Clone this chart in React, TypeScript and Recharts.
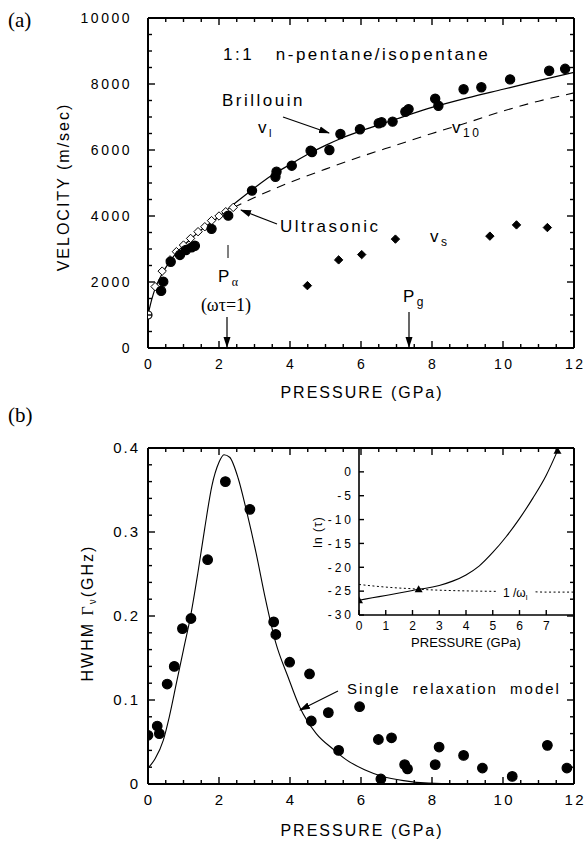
import React from "react";
import { ComposedChart, Line, Scatter, XAxis, YAxis } from "recharts";

const SANS = "'Liberation Sans', Arial, Helvetica, sans-serif";
const SERIF = "'Liberation Serif', 'Times New Roman', serif";

// ---------- panel (a): sound velocity vs pressure ----------
const brillouinPts: [number, number][] = [
  [0.37, 1730], [0.43, 2010], [0.64, 2615], [0.9, 2820], [1.07, 2970],
  [1.23, 3050], [1.32, 3100], [1.79, 3610], [2.26, 4010], [2.93, 4770],
  [3.59, 5190], [3.62, 5340], [4.05, 5525], [4.58, 5980], [4.62, 5940],
  [5.11, 6000], [5.42, 6485], [5.97, 6630], [6.5, 6810], [6.58, 6840],
  [6.89, 6860], [7.25, 7160], [7.34, 7240], [8.09, 7555], [8.18, 7340],
  [8.89, 7840], [9.39, 7900], [10.2, 8140], [11.3, 8400], [11.75, 8460],
];
const ultrasonicPts: [number, number][] = [
  [0.2, 1860], [0.4, 2330], [0.62, 2670], [0.8, 2920], [1.0, 3120], [1.2, 3320],
  [1.41, 3525], [1.6, 3675], [1.79, 3860], [2.0, 4000], [2.19, 4130], [2.4, 4260],
];
const ambientPt: [number, number][] = [[0, 1000]];
const shearPts: [number, number][] = [
  [4.49, 1890], [5.37, 2670], [6.02, 2830], [6.97, 3300], [9.63, 3390], [10.38, 3730], [11.25, 3650],
];
const vlFit: [number, number][] = [
  [0, 1000], [0.1, 1450], [0.2, 1800], [0.4, 2250], [0.6, 2600], [0.8, 2880], [1, 3100],
  [1.5, 3580], [2, 3980], [2.5, 4430], [3, 4850], [3.5, 5240], [4, 5560], [4.5, 5870],
  [5, 6140], [5.5, 6380], [6, 6580], [6.5, 6760], [7, 6940], [8, 7290], [9, 7580],
  [10, 7840], [11, 8100], [12, 8350],
];
const v10Fit: [number, number][] = [
  [2.4, 4250], [3, 4560], [4, 5020], [5, 5420], [6, 5800], [7, 6150], [8, 6500],
  [9, 6830], [10, 7180], [11, 7480], [12, 7730],
];
const pressureTicks = [0, 2, 4, 6, 8, 10, 12];
const velocityTicks = [0, 2000, 4000, 6000, 8000, 10000];

// ---------- panel (b): linewidth vs pressure ----------
const hwhmPts: [number, number][] = [
  [0, 0.058], [0.26, 0.069], [0.32, 0.06], [0.54, 0.119], [0.74, 0.14], [0.97, 0.185],
  [1.21, 0.197], [1.68, 0.267], [2.18, 0.36], [2.87, 0.327], [3.54, 0.193], [3.6, 0.178],
  [3.99, 0.145], [4.55, 0.131], [4.6, 0.075], [5.08, 0.085], [5.37, 0.04], [5.96, 0.092],
  [6.49, 0.053], [6.56, 0.006], [6.86, 0.055], [7.23, 0.023], [7.31, 0.018], [8.09, 0.023],
  [8.2, 0.044], [8.89, 0.034], [9.42, 0.019], [10.26, 0.009], [11.25, 0.046], [11.8, 0.019],
];
const relaxModel: [number, number][] = [
  [0, 0.019], [0.2, 0.03], [0.43, 0.052], [0.6, 0.08], [0.8, 0.12], [1.0, 0.16], [1.2, 0.2],
  [1.4, 0.25], [1.6, 0.305], [1.8, 0.355], [2.0, 0.383], [2.14, 0.392], [2.3, 0.389],
  [2.54, 0.364], [2.77, 0.326], [3.05, 0.274], [3.3, 0.222], [3.6, 0.168], [3.94, 0.128],
  [4.27, 0.092], [4.74, 0.06], [5.2, 0.042], [5.58, 0.029], [6.1, 0.017], [6.61, 0.009],
  [7.2, 0.004], [7.9, 0.001], [9, 0], [10, 0],
];
const hwhmTicks = [0, 0.1, 0.2, 0.3, 0.4];

// ---------- inset: ln(tau) vs pressure ----------
const lnTau: [number, number][] = [
  [0, -26.9], [0.5, -26.4], [1, -25.9], [1.5, -25.4], [2, -24.85], [2.23, -24.6],
  [2.5, -24.4], [3, -23.8], [3.5, -22.9], [4, -21.6], [4.5, -19.7], [5, -16.9],
  [5.5, -13.6], [6, -9.8], [6.5, -5.5], [7, -0.7], [7.42, 4.4],
];
const invOmegaLeft: [number, number][] = [
  [0, -23.6], [0.5, -23.9], [1, -24.15], [1.5, -24.35], [2, -24.5], [2.23, -24.6],
  [3, -24.8], [4, -24.95], [5.2, -25.05],
];
const invOmegaRight: [number, number][] = [[6.6, -25.15], [7, -25.2], [8, -25.2]];
const tauMarks: [number, number][] = [[0, -26.9], [2.23, -24.6], [7.42, 4.4]];
const insetPTicks = [0, 1, 2, 3, 4, 5, 6, 7];
const insetLnTicks = [-30, -25, -20, -15, -10, -5, 0];

const toPV = (arr: [number, number][]) => arr.map(([p, v]) => ({ p, v }));
const steps = (lo: number, hi: number, step: number) =>
  Array.from({ length: Math.round((hi - lo) / step) + 1 }, (_, i) => +(lo + i * step).toFixed(4));
const isIn = (v: number, arr: number[]) => arr.some((m) => Math.abs(m - v) < 1e-6);

type TickCfg = {
  side: "bottom" | "top" | "left" | "right";
  majors: number[];
  len?: number;
  minor?: number;
  label?: boolean;
  fmt?: (v: number) => string;
  size?: number;
  gap?: number;
  ls?: number;
};

function tickRenderer(cfg: TickCfg) {
  return (props: any) => {
    const { x, y, payload } = props;
    const v = payload.value;
    const major = isIn(v, cfg.majors);
    const L = major ? cfg.len ?? 7 : cfg.minor ?? 4;
    let d = "";
    if (cfg.side === "bottom") d = `M${x},${y}V${y - L}`;
    if (cfg.side === "top") d = `M${x},${y}V${y + L}`;
    if (cfg.side === "left") d = `M${x},${y}H${x + L}`;
    if (cfg.side === "right") d = `M${x},${y}H${x - L}`;
    const fs = cfg.size ?? 14;
    const ls = cfg.ls ?? 0;
    const txt = cfg.fmt ? cfg.fmt(v) : String(v);
    const showLabel = cfg.label && major;
    return (
      <g>
        <path d={d} stroke="#000" strokeWidth={1.4} fill="none" />
        {showLabel && cfg.side === "bottom" && (
          <text x={x + ls / 2} y={y + (cfg.gap ?? 21)} textAnchor="middle" fontSize={fs}
            fontFamily={SANS} fill="#000" style={{ letterSpacing: ls }}>{txt}</text>
        )}
        {showLabel && cfg.side === "left" && (
          <text x={x - (cfg.gap ?? 10)} y={y + fs * 0.36} textAnchor="end" fontSize={fs}
            fontFamily={SANS} fill="#000" style={{ letterSpacing: ls }}>{txt}</text>
        )}
      </g>
    );
  };
}

const frame = { stroke: "#000", strokeWidth: 2 };

const dot = (r: number, fill: string) => (p: any) =>
  <circle cx={p.cx} cy={p.cy} r={r} fill={fill} stroke="#000" strokeWidth={1.2} />;
const diamond = (s: number, fill: string) => (p: any) => (
  <polygon
    points={`${p.cx},${p.cy - s} ${p.cx + s},${p.cy} ${p.cx},${p.cy + s} ${p.cx - s},${p.cy}`}
    fill={fill} stroke="#000" strokeWidth={1}
  />
);
const triangle = (s: number) => (p: any) => (
  <polygon points={`${p.cx},${p.cy - s} ${p.cx + s},${p.cy + s * 0.75} ${p.cx - s},${p.cy + s * 0.75}`} fill="#000" />
);

function VelocityPanel() {
  const pAll = steps(0, 12, 0.5);
  const vAll = steps(0, 10000, 500);
  return (
    <ComposedChart width={588} height={400} margin={{ top: 17, right: 0, bottom: 0, left: 0 }}>
      <XAxis xAxisId="b" type="number" dataKey="p" domain={[0, 12]} ticks={pAll} interval={0}
        tickSize={0} tickMargin={0} tickLine={false} axisLine={frame} height={52} allowDataOverflow
        tick={tickRenderer({ side: "bottom", majors: pressureTicks, label: true, size: 14, ls: 2.5 })} />
      <XAxis xAxisId="t" orientation="top" type="number" dataKey="p" domain={[0, 12]} ticks={pAll}
        interval={0} tickSize={0} tickMargin={0} tickLine={false} axisLine={frame} height={1} allowDataOverflow
        tick={tickRenderer({ side: "top", majors: pressureTicks })} />
      <YAxis yAxisId="l" type="number" dataKey="v" domain={[0, 10000]} ticks={vAll} interval={0}
        tickSize={0} tickMargin={0} tickLine={false} axisLine={frame} width={148} allowDataOverflow
        tick={tickRenderer({ side: "left", majors: velocityTicks, label: true, size: 14, ls: 2.5, gap: 16 })} />
      <YAxis yAxisId="r" orientation="right" type="number" dataKey="v" domain={[0, 10000]} ticks={vAll}
        interval={0} tickSize={0} tickMargin={0} tickLine={false} axisLine={frame} width={14} allowDataOverflow
        tick={tickRenderer({ side: "right", majors: velocityTicks })} />
      <Line xAxisId="b" yAxisId="l" data={toPV(v10Fit)} dataKey="v" type="monotone" stroke="#000"
        strokeWidth={1.1} strokeDasharray="9 7" dot={false} isAnimationActive={false} />
      <Line xAxisId="b" yAxisId="l" data={toPV(vlFit)} dataKey="v" type="monotone" stroke="#000"
        strokeWidth={1.2} dot={false} isAnimationActive={false} />
      <Scatter xAxisId="b" yAxisId="l" data={toPV(ultrasonicPts)} shape={diamond(4.2, "#fff")} isAnimationActive={false} />
      <Scatter xAxisId="b" yAxisId="l" data={toPV(brillouinPts)} shape={dot(4.6, "#000")} isAnimationActive={false} />
      <Scatter xAxisId="b" yAxisId="l" data={toPV(ambientPt)} shape={dot(4, "#fff")} isAnimationActive={false} />
      <Scatter xAxisId="b" yAxisId="l" data={toPV(shearPts)} shape={diamond(4.2, "#000")} isAnimationActive={false} />
    </ComposedChart>
  );
}

function HwhmPanel() {
  const pAll = steps(0, 12, 0.5);
  const gAll = steps(0, 0.4, 0.02);
  const fmt = (v: number) => (v === 0 ? "0" : v.toFixed(1));
  return (
    <ComposedChart width={588} height={423} margin={{ top: 27, right: 0, bottom: 0, left: 0 }}>
      <XAxis xAxisId="b" type="number" dataKey="p" domain={[0, 12]} ticks={pAll} interval={0}
        tickSize={0} tickMargin={0} tickLine={false} axisLine={frame} height={59} allowDataOverflow
        tick={tickRenderer({ side: "bottom", majors: pressureTicks, label: true, size: 15, ls: 2.5 })} />
      <XAxis xAxisId="t" orientation="top" type="number" dataKey="p" domain={[0, 12]} ticks={pAll}
        interval={0} tickSize={0} tickMargin={0} tickLine={false} axisLine={frame} height={1} allowDataOverflow
        tick={tickRenderer({ side: "top", majors: pressureTicks })} />
      <YAxis yAxisId="l" type="number" dataKey="v" domain={[0, 0.4]} ticks={gAll} interval={0}
        tickSize={0} tickMargin={0} tickLine={false} axisLine={frame} width={148} allowDataOverflow
        tick={tickRenderer({ side: "left", majors: hwhmTicks, label: true, size: 15, ls: 2, gap: 8, fmt })} />
      <YAxis yAxisId="r" orientation="right" type="number" dataKey="v" domain={[0, 0.4]} ticks={gAll}
        interval={0} tickSize={0} tickMargin={0} tickLine={false} axisLine={frame} width={14} allowDataOverflow
        tick={tickRenderer({ side: "right", majors: hwhmTicks })} />
      <Line xAxisId="b" yAxisId="l" data={toPV(relaxModel)} dataKey="v" type="monotone" stroke="#000"
        strokeWidth={1.1} dot={false} isAnimationActive={false} />
      <Scatter xAxisId="b" yAxisId="l" data={toPV(hwhmPts)} shape={dot(4.8, "#000")} isAnimationActive={false} />
    </ComposedChart>
  );
}

function TauInset() {
  return (
    <ComposedChart width={288} height={200} margin={{ top: 8, right: 15, bottom: 0, left: 0 }}>
      <XAxis type="number" dataKey="p" domain={[0, 8]} ticks={insetPTicks} interval={0}
        tickSize={0} tickMargin={0} tickLine={false} axisLine={{ stroke: "#000", strokeWidth: 1.6 }} height={25}
        allowDataOverflow
        tick={tickRenderer({ side: "bottom", majors: insetPTicks, label: true, size: 12, ls: 0, gap: 15, len: 5 })} />
      <YAxis type="number" dataKey="v" domain={[-30, 5]} ticks={insetLnTicks} interval={0}
        tickSize={0} tickMargin={0} tickLine={false} axisLine={{ stroke: "#000", strokeWidth: 1.6 }} width={59}
        allowDataOverflow
        tick={tickRenderer({ side: "left", majors: insetLnTicks, label: true, size: 12, ls: 3, gap: 5, len: 5 })} />
      <Line data={toPV(invOmegaLeft)} dataKey="v" type="monotone" stroke="#000" strokeWidth={1}
        strokeDasharray="2 2.5" dot={false} isAnimationActive={false} />
      <Line data={toPV(invOmegaRight)} dataKey="v" type="monotone" stroke="#000" strokeWidth={1}
        strokeDasharray="2 2.5" dot={false} isAnimationActive={false} />
      <Line data={toPV(lnTau)} dataKey="v" type="monotone" stroke="#000" strokeWidth={1.1}
        dot={false} isAnimationActive={false} />
      <Scatter data={toPV(tauMarks)} shape={triangle(4)} isAnimationActive={false} />
    </ComposedChart>
  );
}

function Annotations() {
  const t = { fontFamily: SANS, fill: "#000" } as const;
  const big = { ...t, fontSize: 17, style: { letterSpacing: 2.5, whiteSpace: "pre" as const } };
  const arrow = (x1: number, y1: number, x2: number, y2: number) => (
    <line x1={x1} y1={y1} x2={x2} y2={y2} stroke="#000" strokeWidth={1.2} markerEnd="url(#ah)" />
  );
  return (
    <svg width={588} height={843} style={{ position: "absolute", left: 0, top: 0, pointerEvents: "none" }}>
      <defs>
        <marker id="ah" markerUnits="userSpaceOnUse" markerWidth={11} markerHeight={8} refX={10} refY={4} orient="auto">
          <path d="M0,0.5 L11,4 L0,7.5 Z" fill="#000" />
        </marker>
      </defs>
      {/* panel (a) */}
      <text x={8} y={27} fontFamily={SERIF} fontSize={21}>(a)</text>
      <text {...t} fontSize={16} textAnchor="middle" transform="translate(69,187) rotate(-90)"
        style={{ letterSpacing: 2 }}>VELOCITY (m/sec)</text>
      <text {...t} fontSize={16} x={362} y={398} textAnchor="middle" style={{ letterSpacing: 2 }}>PRESSURE (GPa)</text>
      <text {...big} x={223} y={60}>{"1:1   n-pentane/isopentane"}</text>
      <text {...big} x={222} y={106}>Brillouin</text>
      <text {...big} x={258} y={133}>v<tspan fontSize={11} dy={4}>l</tspan></text>
      {arrow(283, 117, 329, 133)}
      <text {...big} x={452} y={133}>v<tspan fontSize={12} dy={4}>10</tspan></text>
      <text {...big} x={280} y={232}>Ultrasonic</text>
      {arrow(277, 224, 241, 210)}
      <text {...big} x={430} y={242}>v<tspan fontSize={12} dy={4}>s</tspan></text>
      <line x1={228} y1={245} x2={228} y2={258} stroke="#000" strokeWidth={1} />
      <text {...big} x={218} y={282}>P<tspan fontFamily={SERIF} fontSize={12} dy={4}>α</tspan></text>
      <text x={226} y={311} textAnchor="middle" fontFamily={SERIF} fontSize={18}>(ωτ=1)</text>
      {arrow(227, 317, 227, 347)}
      <text {...big} x={403} y={302}>P<tspan fontSize={12} dy={4}>g</tspan></text>
      {arrow(409, 312, 409, 347)}

      {/* panel (b) */}
      <text x={8} y={422} fontFamily={SERIF} fontSize={21}>(b)</text>
      <text {...t} fontSize={16} textAnchor="middle" transform="translate(93,613) rotate(-90)"
        style={{ letterSpacing: 2 }}>
        HWHM <tspan fontFamily={SERIF}>Γ</tspan><tspan fontSize={10} dy={3}>ν</tspan><tspan dy={-3}>(GHz)</tspan>
      </text>
      <text {...t} fontSize={16} x={362} y={836} textAnchor="middle" style={{ letterSpacing: 2 }}>PRESSURE (GPa)</text>
      <text {...t} fontSize={15} x={347} y={694} style={{ letterSpacing: 2, wordSpacing: 6 }}>Single relaxation model</text>
      {arrow(338, 691, 300, 710)}

      {/* inset */}
      <text {...t} fontSize={12} textAnchor="middle" transform="translate(322,532) rotate(-90)"
        style={{ letterSpacing: 1 }}>ln (τ)</text>
      <text {...t} fontSize={13} x={466} y={647} textAnchor="middle">PRESSURE (GPa)</text>
      <text {...t} fontSize={12} x={503} y={597}>1 /ω<tspan fontSize={8} dy={3}>l</tspan></text>
    </svg>
  );
}

export default function App() {
  return (
    <div style={{ position: "absolute", left: 0, top: 0, width: 588, height: 843, background: "#fff" }}>
      <div style={{ position: "absolute", left: 0, top: 0 }}>
        <VelocityPanel />
      </div>
      <div style={{ position: "absolute", left: 0, top: 420 }}>
        <HwhmPanel />
      </div>
      <div style={{ position: "absolute", left: 300, top: 440 }}>
        <TauInset />
      </div>
      <Annotations />
    </div>
  );
}
